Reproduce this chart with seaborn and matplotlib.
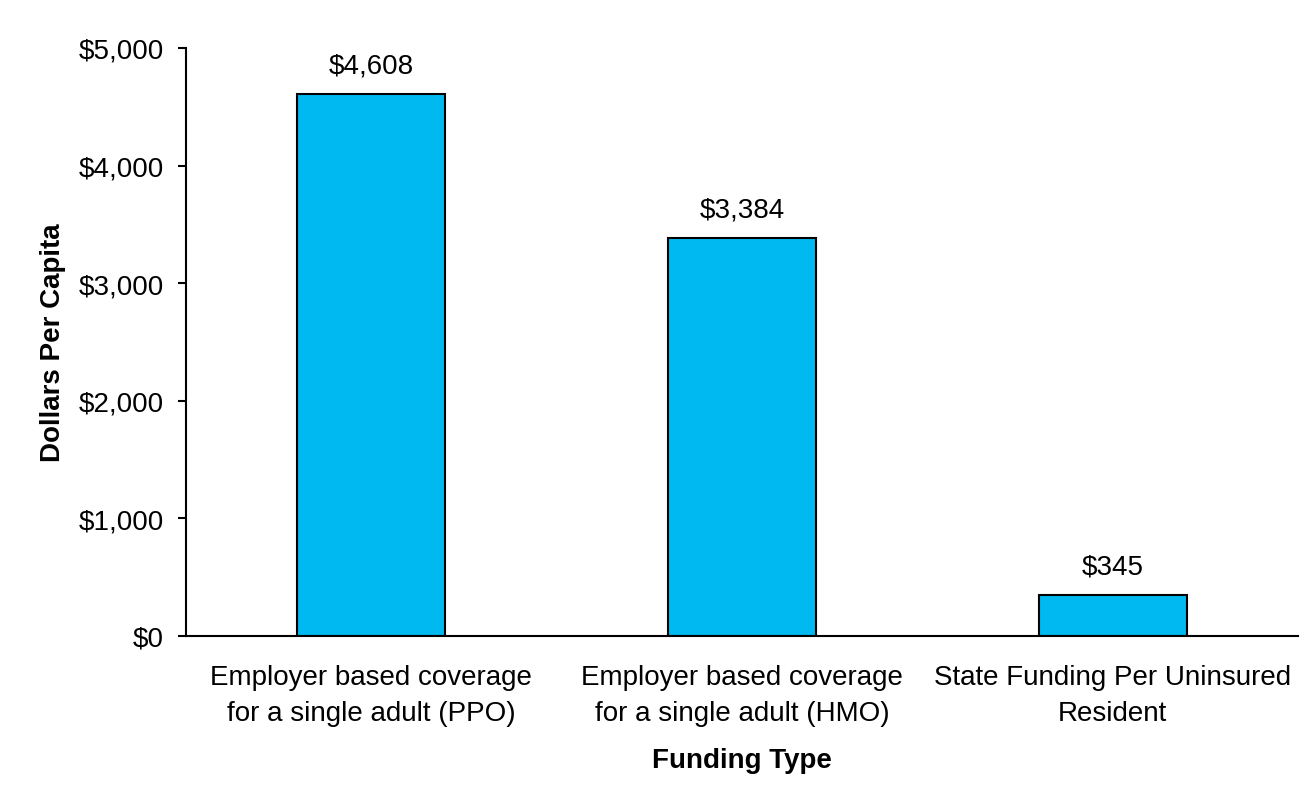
import matplotlib
matplotlib.use("Agg")
import matplotlib.pyplot as plt
import seaborn as sns
import pandas as pd
from matplotlib.ticker import FuncFormatter

categories = [
    "Employer based coverage\nfor a single adult (PPO)",
    "Employer based coverage\nfor a single adult (HMO)",
    "State Funding Per Uninsured\nResident",
]
dollars = [4608, 3384, 345]
y_ticks = [0, 1000, 2000, 3000, 4000, 5000]

df = pd.DataFrame({"Funding Type": categories, "Dollars Per Capita": dollars})

sns.set_theme(style="white")
plt.rcParams["font.family"] = ["Liberation Sans", "DejaVu Sans"]

FS = 20

fig = plt.figure(figsize=(13.15, 8.03), dpi=100)
ax = fig.add_axes([186 / 1315, 1 - 637 / 803, 1112 / 1315, 588 / 803])

sns.barplot(data=df, x="Funding Type", y="Dollars Per Capita", ax=ax,
            color="#00B9F1", saturation=1, width=0.40,
            edgecolor="black", linewidth=1.5)

ax.set_xlim(-0.5, 2.5)
ax.set_ylim(0, 5000)
ax.set_yticks(y_ticks)
ax.yaxis.set_major_formatter(FuncFormatter(lambda v, p: f"${v:,.0f}"))
ax.set_xticks(range(len(categories)))
ax.set_xticklabels(categories, linespacing=1.5)

for spine in ["top", "right"]:
    ax.spines[spine].set_visible(False)
for spine in ["left", "bottom"]:
    ax.spines[spine].set_color("black")
    ax.spines[spine].set_linewidth(1.5)

ax.tick_params(axis="y", which="major", left=True, length=6, width=1.5,
               color="black", direction="out", labelsize=FS, pad=10,
               labelcolor="black")
ax.tick_params(axis="x", length=0, labelsize=FS, pad=20, labelcolor="black")

ax.set_ylabel("Dollars Per Capita", fontsize=FS, fontweight="bold",
              color="black", labelpad=9)
ax.set_xlabel("Funding Type", fontsize=FS, fontweight="bold",
              color="black", labelpad=15)

for i, v in enumerate(dollars):
    ax.annotate(f"${v:,}", xy=(i, v), xytext=(0, 11.5), textcoords="offset points",
                ha="center", va="bottom", fontsize=FS, color="black")

fig.savefig("out.png", dpi=100, facecolor="white")
